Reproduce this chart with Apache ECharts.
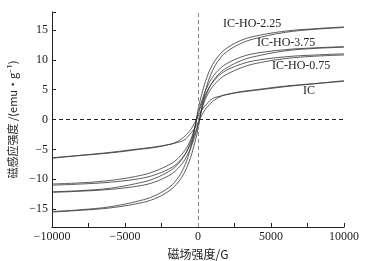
<!DOCTYPE html>
<html>
<head>
<meta charset="utf-8">
<script src="https://cdn.jsdelivr.net/npm/echarts@6/dist/echarts.min.js"></script>
<style>
  html, body { margin: 0; padding: 0; background: #fff; }
  #chart { width: 380px; height: 261px; }
</style>
</head>
<body>
<div id="chart"></div>
<script>
// field values (G)
var fields = [-10000, -8000, -6000, -4000, -3000, -2000, -1500, -1000, -600, -300, 0,
  300, 600, 1000, 1500, 2000, 3000, 4000, 6000, 8000, 10000];

// descending branch (upper) and ascending branch (lower), emu/g
var ho225Down = [-15.4, -15.1, -14.6, -13.6, -12.8, -11.4, -10.2, -8.2, -5.6, -2.6, 1.6,
  4.6, 7.0, 9.2, 10.9, 12.0, 13.3, 14.0, 14.8, 15.2, 15.5];
var ho225Up = [-15.5, -15.2, -14.8, -14.0, -13.3, -12.0, -10.9, -9.2, -7.0, -4.6, -1.6,
  2.6, 5.6, 8.2, 10.2, 11.4, 12.8, 13.6, 14.6, 15.1, 15.4];

var ho375Down = [-12.1, -11.9, -11.5, -10.6, -9.9, -8.7, -7.8, -6.3, -4.4, -2.2, 1.0,
  3.4, 5.3, 7.1, 8.5, 9.4, 10.5, 11.1, 11.7, 12.0, 12.2];
var ho375Up = [-12.2, -12.0, -11.7, -11.1, -10.5, -9.4, -8.5, -7.1, -5.3, -3.4, -1.0,
  2.2, 4.4, 6.3, 7.8, 8.7, 9.9, 10.6, 11.5, 11.9, 12.1];

var ho075Down = [-10.8, -10.6, -10.2, -9.4, -8.7, -7.6, -6.8, -5.5, -3.9, -2.0, 0.8,
  2.9, 4.6, 6.2, 7.5, 8.3, 9.3, 9.9, 10.5, 10.8, 11.0];
var ho075Up = [-11.0, -10.8, -10.5, -9.9, -9.3, -8.3, -7.5, -6.2, -4.6, -2.9, -0.8,
  2.0, 3.9, 5.5, 6.8, 7.6, 8.7, 9.4, 10.2, 10.6, 10.8];

var icDown = [-6.4, -6.0, -5.6, -5.0, -4.7, -4.2, -3.8, -3.0, -2.0, -0.9, 0.5,
  1.7, 2.6, 3.5, 3.9, 4.2, 4.6, 4.9, 5.5, 6.0, 6.5];
var icUp = [-6.5, -6.0, -5.5, -4.9, -4.6, -4.2, -3.9, -3.5, -2.6, -1.7, -0.5,
  0.9, 2.0, 3.0, 3.8, 4.2, 4.7, 5.0, 5.6, 6.0, 6.4];

var yTicks = [-15, -10, -5, 0, 5, 10, 15];

var serif = '"Liberation Serif", "Times New Roman", serif';
var cjk = '"Noto Sans CJK SC", sans-serif';

function pairs(ys) {
  return fields.map(function (h, i) { return [h, ys[i]]; });
}

function branch(name, ys) {
  return {
    name: name,
    type: 'line',
    data: pairs(ys),
    smooth: 0.4,
    symbol: 'none',
    silent: true,
    lineStyle: { color: '#333', width: 0.8 }
  };
}

var series = [
  branch('IC-HO-2.25', ho225Down), branch('IC-HO-2.25', ho225Up),
  branch('IC-HO-3.75', ho375Down), branch('IC-HO-3.75', ho375Up),
  branch('IC-HO-0.75', ho075Down), branch('IC-HO-0.75', ho075Up),
  branch('IC', icDown), branch('IC', icUp)
];

series[0].markLine = {
  silent: true,
  symbol: 'none',
  label: { show: false },
  data: [
    { xAxis: 0, lineStyle: { color: '#888', type: [4, 3], width: 1 } },
    { yAxis: 0, lineStyle: { color: '#222', type: [4, 3], width: 1 } }
  ]
};

var minus = function (v) { return String(v).replace('-', '\u2212'); };

var chart = echarts.init(document.getElementById('chart'));
chart.setOption({
  animation: false,
  backgroundColor: '#fff',
  grid: { left: 52, right: 36, top: 12, bottom: 34, outerBoundsMode: 'none', containLabel: false },
  xAxis: {
    type: 'value',
    min: -10000,
    max: 10000,
    interval: 5000,
    name: '磁场强度/G',
    nameLocation: 'middle',
    nameGap: 21,
    nameTextStyle: { fontFamily: cjk, fontSize: 12, color: '#222' },
    axisLine: { onZero: false, lineStyle: { color: '#222', width: 1 } },
    axisTick: { inside: true, length: 4, lineStyle: { color: '#222' } },
    minorTick: { show: true, splitNumber: 2, length: 4, lineStyle: { color: '#222' } },
    axisLabel: { fontFamily: serif, fontSize: 12, color: '#222', margin: 4, formatter: minus },
    splitLine: { show: false }
  },
  yAxis: {
    type: 'value',
    min: -18,
    max: 18,
    name: '磁感应强度 /(emu·g\u207B\u00B9)',
    nameLocation: 'middle',
    nameGap: 29,
    nameTextStyle: { fontFamily: cjk, fontSize: 11, color: '#222' },
    axisLine: { show: true, onZero: false, lineStyle: { color: '#222', width: 1 } },
    axisTick: { show: true, inside: true, length: 4, customValues: yTicks.concat([18]), lineStyle: { color: '#222' } },
    axisLabel: { fontFamily: serif, fontSize: 12, color: '#222', margin: 4, customValues: yTicks, formatter: minus },
    splitLine: { show: false }
  },
  graphic: [
    { type: 'text', left: 223, top: 18, style: { text: 'IC-HO-2.25', font: '12px ' + serif, fill: '#222' } },
    { type: 'text', left: 257, top: 37, style: { text: 'IC-HO-3.75', font: '12px ' + serif, fill: '#222' } },
    { type: 'text', left: 272, top: 60, style: { text: 'IC-HO-0.75', font: '12px ' + serif, fill: '#222' } },
    { type: 'text', left: 303, top: 85, style: { text: 'IC', font: '12px ' + serif, fill: '#222' } }
  ],
  series: series
});
</script>
</body>
</html>
